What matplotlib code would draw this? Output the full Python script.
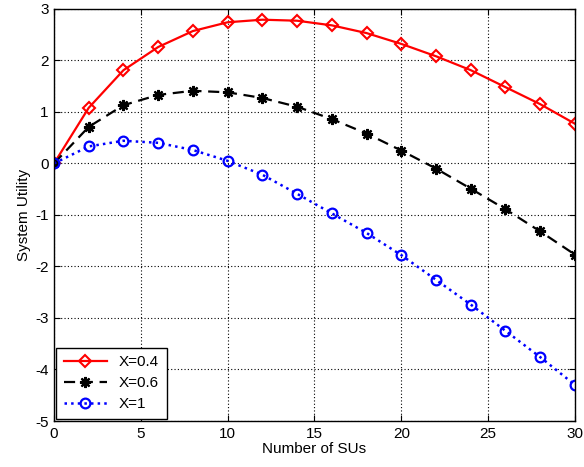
import matplotlib
matplotlib.use('Agg')
import matplotlib.pyplot as plt

x = [0, 2, 4, 6, 8, 10, 12, 14, 16, 18, 20, 22, 24, 26, 28, 30]
u_04 = [0, 1.08, 1.81, 2.26, 2.57, 2.74, 2.79, 2.77, 2.68, 2.53, 2.32, 2.08, 1.81, 1.48, 1.15, 0.77]
u_06 = [0, 0.71, 1.13, 1.33, 1.41, 1.38, 1.27, 1.10, 0.86, 0.58, 0.25, -0.10, -0.49, -0.89, -1.32, -1.77]
u_1 = [0, 0.33, 0.44, 0.40, 0.26, 0.05, -0.22, -0.59, -0.97, -1.35, -1.78, -2.26, -2.74, -3.25, -3.76, -4.30]

plt.rcParams['font.family'] = ['Liberation Sans', 'DejaVu Sans']
plt.rcParams['font.size'] = 11
plt.rcParams['axes.unicode_minus'] = False

fig = plt.figure(figsize=(5.84, 4.67), dpi=100)
ax = fig.add_axes([0.0925, 0.0985, 0.892, 0.8825])

ax.plot(x, u_04, '-', color='red', lw=1.6, marker='D', ms=6.5, mfc='none', mew=1.5, label='X=0.4')
ax.plot(x, u_06, '--', color='black', lw=1.6, dashes=(5, 3), marker=(8, 2, 0), ms=8, mew=1.6, label='X=0.6')
ax.plot(x, u_1, ':', color='blue', lw=1.8, marker='o', ms=7, mfc='none', mew=1.6, label='X=1')

ax.set_xlim(0, 30)
ax.set_ylim(-5, 3)
ax.set_xticks(range(0, 31, 5))
ax.set_yticks(range(-5, 4))
ax.grid(True, color='black', linestyle=(0, (1, 2)), linewidth=0.8)
ax.tick_params(direction='in', top=True, right=True, length=4, labelsize=11, pad=4)
for s in ax.spines.values():
    s.set_linewidth(1.0)

ax.set_xlabel('Number of SUs', labelpad=1)
ax.set_ylabel('System Utility', labelpad=3)

leg = ax.legend(loc='lower left', fancybox=False, framealpha=1, edgecolor='black',
                borderaxespad=0.15, handlelength=2.8, fontsize=11, labelspacing=0.45,
                borderpad=0.5)
leg.get_frame().set_linewidth(1.0)

fig.savefig('out.png', dpi=100)
